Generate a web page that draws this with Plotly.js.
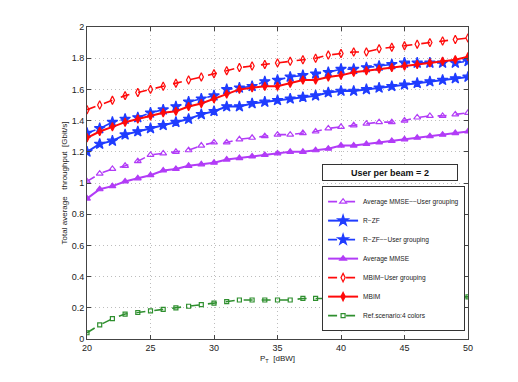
<!DOCTYPE html>
<html>
<head>
<meta charset="utf-8">
<script src="https://cdn.plot.ly/plotly-3.0.1.min.js"></script>
<style>
  html, body { margin: 0; padding: 0; background: #ffffff; }
  #chart { width: 518px; height: 382px; }
</style>
</head>
<body>
<div id="chart"></div>
<script>
// Transmit power P_T in dBW
const powerDbw = [20, 21, 22, 23, 24, 25, 26, 27, 28, 29, 30, 31, 32, 33, 34, 35,
  36, 37, 38, 39, 40, 41, 42, 43, 44, 45, 46, 47, 48, 49, 50];

// Total average throughput [Gbit/s]
const mmseUserGrouping = [1.01, 1.06, 1.09, 1.11, 1.14, 1.18, 1.19, 1.20, 1.21, 1.24, 1.26,
  1.26, 1.28, 1.29, 1.30, 1.31, 1.31, 1.32, 1.33, 1.35, 1.36,
  1.37, 1.38, 1.39, 1.39, 1.40, 1.42, 1.43, 1.43, 1.44, 1.45];
const rzf = [1.20, 1.25, 1.27, 1.31, 1.33, 1.35, 1.37, 1.39, 1.41, 1.44, 1.46,
  1.49, 1.49, 1.51, 1.52, 1.53, 1.54, 1.55, 1.56, 1.58, 1.59,
  1.59, 1.60, 1.61, 1.62, 1.63, 1.64, 1.65, 1.66, 1.67, 1.68];
const rzfUserGrouping = [1.32, 1.35, 1.39, 1.41, 1.42, 1.45, 1.47, 1.49, 1.52, 1.54, 1.56,
  1.60, 1.61, 1.62, 1.65, 1.66, 1.68, 1.69, 1.70, 1.71, 1.73,
  1.73, 1.74, 1.75, 1.76, 1.77, 1.77, 1.77, 1.77, 1.77, 1.78];
const mmse = [0.90, 0.96, 0.98, 1.01, 1.03, 1.05, 1.08, 1.09, 1.11, 1.12, 1.13,
  1.15, 1.16, 1.17, 1.18, 1.19, 1.20, 1.20, 1.21, 1.22, 1.24,
  1.24, 1.25, 1.26, 1.27, 1.28, 1.29, 1.30, 1.31, 1.32, 1.33];
const mbimUserGrouping = [1.47, 1.50, 1.53, 1.56, 1.58, 1.60, 1.62, 1.64, 1.66, 1.68, 1.70,
  1.72, 1.74, 1.75, 1.76, 1.77, 1.78, 1.79, 1.80, 1.82, 1.83,
  1.84, 1.84, 1.86, 1.87, 1.88, 1.89, 1.90, 1.91, 1.92, 1.93];
const mbim = [1.29, 1.33, 1.36, 1.39, 1.41, 1.43, 1.45, 1.46, 1.49, 1.51, 1.54,
  1.57, 1.60, 1.61, 1.62, 1.62, 1.64, 1.66, 1.66, 1.68, 1.69,
  1.71, 1.72, 1.73, 1.74, 1.75, 1.76, 1.77, 1.78, 1.79, 1.81];
const refScenario = [0.04, 0.09, 0.13, 0.16, 0.17, 0.18, 0.19, 0.20, 0.21, 0.22, 0.23,
  0.24, 0.25, 0.25, 0.25, 0.25, 0.25, 0.26, 0.26, 0.26, 0.26,
  0.26, 0.27, 0.27, 0.27, 0.27, 0.27, 0.27, 0.27, 0.27, 0.27];

const PURPLE = '#b23cf7';
const BLUE = '#1f3cff';
const RED = '#ff0a0a';
const GREEN = '#2f8f2f';

function series(name, y, color, dash, symbol, size) {
  return {
    x: powerDbw,
    y: y,
    name: name,
    type: 'scatter',
    mode: 'lines+markers',
    line: { color: color, width: dash === 'solid' ? 2 : 1.6, dash: dash },
    marker: { color: color, symbol: symbol, size: size, line: { color: color, width: 1.2 } },
  };
}

const traces = [
  series('Average MMSE−−User grouping', mmseUserGrouping, PURPLE, 'dash', 'triangle-up-open', 6),
  series('R−ZF', rzf, BLUE, 'solid', 'star', 8),
  series('R−ZF−−User grouping', rzfUserGrouping, BLUE, 'dash', 'star', 8),
  series('Average MMSE', mmse, PURPLE, 'solid', 'triangle-up', 6),
  series('MBIM−User grouping', mbimUserGrouping, RED, 'dash', 'diamond-tall-open', 6),
  series('MBIM', mbim, RED, 'solid', 'diamond-tall', 6),
  series('Ref.scenario:4 colors', refScenario, GREEN, 'dash', 'square-open', 4),
];

const axisStyle = {
  showline: true,
  linecolor: '#444444',
  linewidth: 1,
  mirror: 'ticks',
  ticks: 'inside',
  ticklen: 4,
  tickcolor: '#444444',
  showgrid: true,
  gridcolor: '#bdbdbd',
  griddash: '1px,3px',
  gridwidth: 1,
  zeroline: false,
  tickfont: { family: 'Liberation Sans, Arial, sans-serif', size: 9, color: '#222222' },
};

Plotly.newPlot('chart', traces, {
  width: 518,
  height: 382,
  margin: { l: 87, r: 50, t: 27, b: 43 },
  paper_bgcolor: '#ffffff',
  plot_bgcolor: '#ffffff',
  font: { family: 'Liberation Sans, Arial, sans-serif', size: 9, color: '#222222' },
  xaxis: Object.assign({}, axisStyle, {
    range: [20, 50],
    tickvals: [20, 25, 30, 35, 40, 45, 50],
    title: { text: 'P<sub>T</sub>  [dBW]', standoff: 3, font: { size: 8 } },
  }),
  yaxis: Object.assign({}, axisStyle, {
    range: [0, 2],
    dtick: 0.2,
    title: { text: 'Total average   throughput  [Gbit/s]', standoff: 2, font: { size: 8 } },
  }),
  showlegend: true,
  legend: {
    x: 0.617,
    y: 0.49,
    xanchor: 'left',
    yanchor: 'top',
    bgcolor: '#ffffff',
    bordercolor: '#333333',
    borderwidth: 1,
    font: { size: 6.6, color: '#222222' },
    itemwidth: 30,
  },
  annotations: [{
    xref: 'paper', yref: 'paper',
    x: 0.617, y: 0.561,
    xanchor: 'left', yanchor: 'top',
    text: '<b>User per beam = 2</b>',
    showarrow: false,
    font: { size: 9, color: '#111111' },
    bgcolor: '#ffffff',
    bordercolor: '#333333',
    borderwidth: 1,
    width: 132,
    height: 13,
  }],
}, { displayModeBar: false, staticPlot: true });
</script>
</body>
</html>
